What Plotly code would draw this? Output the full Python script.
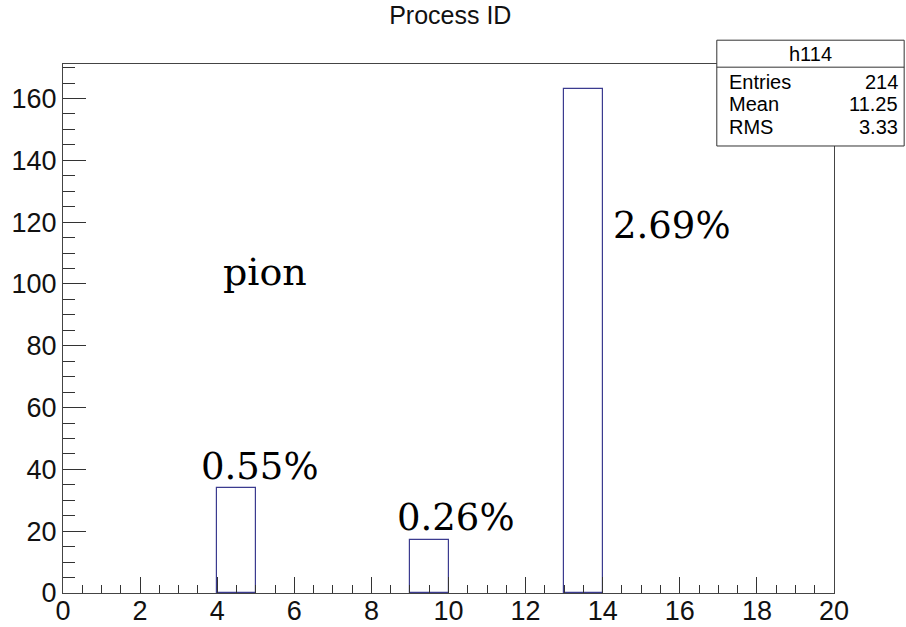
import plotly.graph_objects as go

# Histogram h114: 20 unit-wide bins of process ID
bin_lo = list(range(20))
counts = [0, 0, 0, 0, 34, 0, 0, 0, 0, 17, 0, 0, 0, 163, 0, 0, 0, 0, 0, 0]

# Per-process share labels
pct_text = ["0.55%", "0.26%", "2.69%"]
pct_x = [5.1, 10.2, 15.8]
pct_y = [41, 24.5, 119]

particle = "pion"
particle_x, particle_y = 5.25, 104

stats_title = "h114"
stats_names = ["Entries", "Mean", "RMS"]
stats_values = ["214", "11.25", "3.33"]

ymax = max(counts) * 1.05
# only non-empty bins get an outline (empty ones lie on the axis)
filled = [(b + 0.5, c) for b, c in zip(bin_lo, counts) if c > 0]

fig = go.Figure()
fig.add_trace(go.Bar(
    x=[f[0] for f in filled], y=[f[1] for f in filled], width=1.0,
    marker=dict(color="white", line=dict(color="#3b3b8f", width=1.2)),
    hoverinfo="x+y", showlegend=False,
))

serif = "DejaVu Serif, Liberation Serif, serif"
for t, x, y in zip(pct_text, pct_x, pct_y):
    fig.add_annotation(x=x, y=y, text=t, showarrow=False,
                       font=dict(family=serif, size=37, color="black"))
fig.add_annotation(x=particle_x, y=particle_y, text=particle, showarrow=False,
                   font=dict(family=serif, size=38, color="black"))

# Stats box (paper coordinates)
x0, x1 = 0.848, 1.091
y0, y1, ysep = 0.845, 1.045, 0.994
fig.add_shape(type="rect", xref="paper", yref="paper", x0=x0, x1=x1, y0=y0, y1=y1,
              line=dict(color="#333", width=1), fillcolor="white", layer="above")
fig.add_shape(type="line", xref="paper", yref="paper", x0=x0, x1=x1, y0=ysep, y1=ysep,
              line=dict(color="#333", width=1), layer="above")
sans = "Liberation Sans, Arial, sans-serif"
fig.add_annotation(xref="paper", yref="paper", x=(x0 + x1) / 2, y=(y1 + ysep) / 2,
                   text=stats_title, showarrow=False, xanchor="center", yanchor="middle",
                   font=dict(family=sans, size=20, color="black"))
row_y = [0.966, 0.924, 0.881]
for name, val, ry in zip(stats_names, stats_values, row_y):
    fig.add_annotation(xref="paper", yref="paper", x=x0 + 0.013, y=ry, text=name,
                       showarrow=False, xanchor="left", yanchor="middle",
                       font=dict(family=sans, size=20, color="black"))
    fig.add_annotation(xref="paper", yref="paper", x=x1 - 0.005, y=ry, text=val,
                       showarrow=False, xanchor="right", yanchor="middle",
                       font=dict(family=sans, size=20, color="black"))

fig.update_layout(
    width=906, height=627,
    margin=dict(l=63, r=72, t=64, b=34),
    paper_bgcolor="white", plot_bgcolor="white",
    bargap=0,
    title=dict(text="Process ID", x=0.497, xanchor="center", y=0.975, yanchor="middle",
               font=dict(family=sans, size=25, color="#111"), automargin=False),
    font=dict(family=sans, color="#111"),
    xaxis=dict(range=[0, 20], dtick=2, tick0=0, ticks="inside", ticklen=16,
               tickcolor="#333", showline=True, linecolor="#444", linewidth=1.3,
               mirror=True, showgrid=False, zeroline=False, automargin=False,
               ticklabelstandoff=-7,
               tickfont=dict(size=27, family=sans, color="#111"),
               minor=dict(dtick=0.5, ticks="inside", ticklen=8, tickcolor="#333")),
    yaxis=dict(range=[0, ymax], dtick=20, tick0=0, ticks="inside", ticklen=23,
               tickcolor="#333", showline=True, linecolor="#444", linewidth=1.3,
               mirror=True, showgrid=False, zeroline=False, automargin=False,
               ticklabelstandoff=0,
               tickfont=dict(size=27, family=sans, color="#111"),
               minor=dict(dtick=5, ticks="inside", ticklen=12, tickcolor="#333")),
)

fig.write_html("out.html")
